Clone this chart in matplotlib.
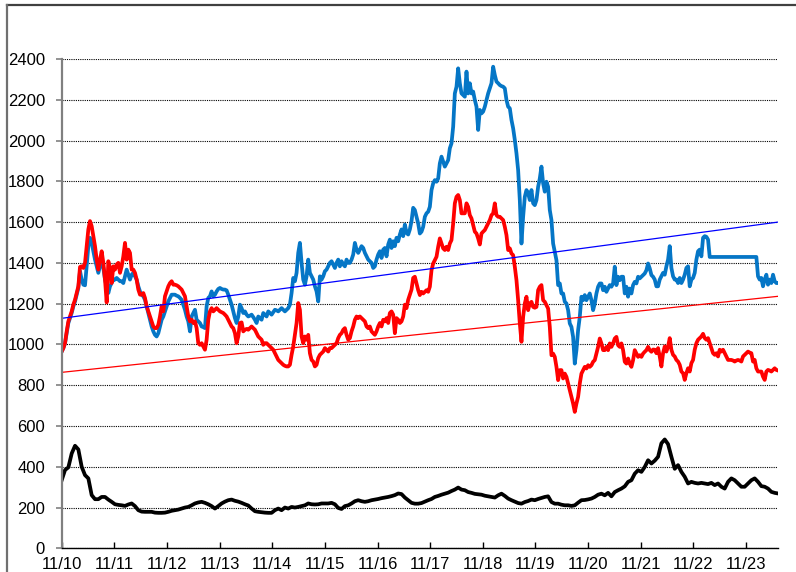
import numpy as np
import matplotlib
matplotlib.use('Agg')
import matplotlib.pyplot as plt
from matplotlib.lines import Line2D

plt.rcParams['font.family'] = ['Liberation Sans', 'DejaVu Sans']

##########################################
# data
##########################################
start = 2010 + 10 / 12          # 11/10
per_year_price = 31.6           # samples per year, blue / red
per_year_rate = 15.8            # samples per year, black

tick_labels = ['11/10', '11/11', '11/12', '11/13', '11/14', '11/15', '11/16',
               '11/17', '11/18', '11/19', '11/20', '11/21', '11/22', '11/23']

# trend line values at first / last date
trend_blue = [1128, 1600]
trend_red = [863, 1236]

blue = [
    965, 982, 1006, 1055, 1105, 1129, 1154, 1187, 1211, 1244,
    1277, 1359, 1318, 1293, 1290, 1383, 1482, 1523, 1498, 1457,
    1416, 1383, 1351, 1383, 1416, 1375, 1318, 1285, 1252, 1285,
    1301, 1318, 1318, 1326, 1318, 1310, 1310, 1301, 1334, 1367,
    1342, 1318, 1342, 1351, 1334, 1318, 1285, 1260, 1244, 1236,
    1219, 1187, 1154, 1121, 1088, 1064, 1047, 1039, 1055, 1088,
    1121, 1137, 1162, 1187, 1211, 1228, 1244, 1244,
    1244, 1239, 1236, 1228, 1219, 1195, 1170, 1137, 1113, 1064,
    1137, 1154, 1170, 1121, 1113, 1105, 1088, 1085, 1080, 1187,
    1228, 1236, 1260, 1236, 1244, 1260, 1272, 1277, 1272, 1269,
    1269, 1265, 1244, 1219, 1195, 1162, 1129, 1105, 1137, 1195,
    1178, 1154, 1162, 1146, 1137, 1141, 1146, 1134, 1121, 1105,
    1137, 1129, 1121, 1154, 1146, 1137, 1162, 1154, 1146, 1158,
    1170, 1167, 1162, 1170, 1178, 1170, 1162, 1170, 1178, 1195,
    1252, 1326,
    1310, 1351, 1449, 1498, 1400, 1318, 1293, 1334, 1416, 1351,
    1334, 1318, 1285, 1260, 1211, 1334, 1318, 1334, 1359, 1367,
    1383, 1400, 1408, 1392, 1375, 1400, 1416, 1383, 1408, 1392,
    1383, 1416, 1400, 1400, 1416, 1441, 1498, 1465, 1449, 1465,
    1482, 1473, 1449, 1432, 1416, 1408, 1400, 1375, 1383, 1416,
    1441, 1457, 1424, 1465, 1473, 1432, 1490, 1514, 1473, 1506,
    1482, 1523, 1506, 1539, 1564, 1531, 1588, 1547, 1539, 1564,
    1605, 1670,
    1659, 1626, 1593, 1544, 1553, 1577, 1626, 1643, 1651, 1675,
    1757, 1790, 1806, 1798, 1814, 1888, 1921, 1896, 1872, 1888,
    1904, 1962, 1986, 2068, 2231, 2264, 2354, 2281, 2231, 2223,
    2215, 2338, 2231, 2281, 2231, 2240, 2199, 2166, 2052, 2150,
    2133, 2142, 2166, 2199, 2231, 2256, 2281, 2362, 2321, 2289,
    2281, 2272, 2267, 2264, 2256, 2199, 2166, 2158, 2101, 2060,
    2003, 1937, 1855, 1708, 1495, 1626, 1724, 1757, 1741, 1708,
    1757, 1692,
    1683, 1708, 1773, 1814, 1872, 1790, 1749, 1798, 1773, 1659,
    1610, 1495, 1454, 1413, 1291, 1299, 1250, 1250, 1209, 1201,
    1168, 1103, 1086, 1037, 906, 972, 1070, 1135, 1234, 1217,
    1242, 1217, 1234, 1250, 1217, 1168, 1201, 1250, 1283, 1299,
    1299, 1266, 1283, 1258, 1274, 1291, 1283, 1299, 1381, 1291,
    1332, 1315, 1332, 1332, 1250, 1283, 1234, 1274, 1250, 1291,
    1307, 1299, 1332, 1324, 1332, 1340, 1348, 1364, 1397, 1373,
    1340, 1332,
    1318, 1285, 1285, 1318, 1334, 1351, 1342, 1383, 1416, 1482,
    1375, 1334, 1318, 1318, 1301, 1326, 1301, 1318, 1342, 1375,
    1383, 1285, 1318, 1326, 1351, 1416, 1457, 1465, 1432, 1523,
    1531, 1528, 1514, 1429, 1429, 1429, 1429, 1429, 1429, 1429,
    1429, 1429, 1429, 1429, 1429, 1429, 1429, 1429, 1429, 1429,
    1429, 1429, 1429, 1429, 1429, 1429, 1429, 1429, 1429, 1429,
    1429, 1429, 1334, 1318, 1326, 1285, 1318, 1342, 1293, 1318,
    1301, 1342, 1310, 1301, 1301,
]

red = [
    965, 982, 1006, 1064, 1113, 1137, 1162, 1195, 1219, 1252,
    1285, 1380, 1383, 1375, 1400, 1482, 1564, 1605, 1580, 1531,
    1482, 1416, 1367, 1416, 1457, 1400, 1318, 1206, 1408, 1375,
    1301, 1383, 1367, 1392, 1400, 1351, 1383, 1432, 1498, 1416,
    1465, 1449, 1367, 1367, 1351, 1318, 1269, 1244, 1244, 1252,
    1228, 1187, 1162, 1137, 1113, 1088, 1080, 1080, 1096, 1137,
    1187, 1162, 1236, 1260, 1285, 1301, 1310, 1293,
    1293, 1290, 1285, 1277, 1269, 1252, 1236, 1187, 1137, 1113,
    1121, 1105, 1113, 1080, 1006, 998, 1006, 990, 974, 1023,
    1121, 1162, 1178, 1162, 1170, 1178, 1170, 1162, 1158, 1154,
    1146, 1137, 1121, 1105, 1088, 1080, 1055, 1006, 1039, 1105,
    1108, 1064, 1072, 1076, 1072, 1080, 1088, 1080, 1072, 1055,
    1039, 1031, 1023, 998, 1006, 1006, 998, 990, 982, 974,
    957, 941, 924, 916, 908, 900, 895, 892, 892, 900,
    949, 990,
    1047, 1105, 1203, 1170, 1039, 1006, 1039, 1023, 1047, 957,
    924, 916, 892, 900, 933, 949, 957, 965, 982, 974,
    965, 982, 982, 990, 998, 1006, 1031, 1047, 1055, 1072,
    1080, 1047, 1023, 1031, 1064, 1088, 1121, 1137, 1129, 1137,
    1129, 1121, 1113, 1088, 1080, 1088, 1064, 1055, 1047, 1064,
    1088, 1105, 1088, 1121, 1113, 1129, 1105, 1154, 1162, 1146,
    1055, 1129, 1121, 1105, 1113, 1137, 1195, 1178, 1219, 1244,
    1269, 1326,
    1332, 1299, 1266, 1242, 1258, 1250, 1258, 1266, 1258, 1283,
    1364, 1397, 1414, 1430, 1479, 1520, 1495, 1471, 1463, 1479,
    1463, 1495, 1512, 1593, 1692, 1724, 1733, 1708, 1643, 1643,
    1643, 1692, 1675, 1634, 1618, 1585, 1553, 1544, 1520, 1490,
    1544, 1553, 1561, 1577, 1593, 1610, 1634, 1643, 1692, 1634,
    1626, 1626, 1618, 1610, 1577, 1536, 1463, 1471, 1446, 1438,
    1381, 1315, 1217, 1103, 1013, 1135, 1201, 1234, 1168, 1201,
    1209, 1184,
    1180, 1184, 1266, 1283, 1291, 1217, 1209, 1193, 1176, 1086,
    947, 955, 939, 890, 825, 874, 874, 833, 857, 841,
    808, 775, 743, 710, 669, 710, 743, 808, 857, 874,
    890, 882, 898, 890, 898, 915, 923, 955, 988, 1029,
    1005, 972, 972, 988, 972, 1005, 988, 1005, 1029, 1037,
    996, 988, 1005, 972, 915, 906, 931, 906, 890, 923,
    972, 955, 939, 947, 939, 955, 964, 972, 988, 972,
    964, 975,
    974, 957, 982, 941, 892, 957, 990, 965, 990, 1031,
    974, 949, 941, 924, 916, 900, 867, 859, 826, 859,
    883, 867, 908, 924, 974, 1006, 1023, 1031, 1039, 1052,
    1031, 1023, 1031, 1006, 982, 957, 949, 957, 941, 974,
    965, 974, 957, 941, 924, 924, 924, 921, 916, 921,
    924, 921, 916, 941, 949, 957, 965, 960, 957, 916,
    924, 883, 867, 867, 867, 842, 826, 867, 875, 872,
    867, 875, 883, 875, 872,
]

black = [
    334, 384, 397, 465, 503, 485, 400, 359, 343, 261,
    241, 241, 252, 252, 239, 228, 216, 213, 211, 208,
    215, 220, 207, 187, 180, 179, 179, 179, 175, 174,
    174, 175, 179, 184,
    187, 190, 195, 200, 203, 211, 220, 225, 228, 223,
    216, 207, 195, 207, 220, 229, 236, 239, 233, 229,
    223, 216, 210, 195, 182, 179, 177, 175, 174, 174,
    187, 195, 187, 200, 195, 203,
    200, 203, 207, 211, 220, 216, 215, 216, 220, 220,
    220, 223, 216, 198, 193, 207, 211, 220, 231, 236,
    231, 228, 231, 236, 239, 242, 246, 249, 252, 256,
    261, 269, 266, 249, 236, 223,
    219, 219, 222, 229, 236, 242, 252, 257, 263, 268,
    273, 281, 288, 298, 288, 285, 276, 272, 267, 265,
    263, 258, 255, 252, 249, 260, 268, 257, 244, 236,
    229, 222, 219, 227, 232, 239,
    236, 242, 247, 252, 255, 227, 219, 219, 214, 211,
    211, 208, 211, 224, 236, 237, 240, 244, 252, 263,
    268, 260, 272, 255, 276, 285, 293, 304, 326, 334,
    366, 383, 375, 399, 432, 416,
    430, 449, 515, 534, 511, 449, 390, 408, 375, 351,
    318, 326, 321, 318, 321, 318, 315, 321, 310, 318,
    302, 293, 326, 343, 334, 318, 302, 302, 318, 334,
    343, 326, 305, 302, 293, 277, 272, 269,
]

t_price = start + np.arange(len(blue)) / per_year_price
t_rate = start + np.arange(len(black)) / per_year_rate
tick_pos = start + np.arange(len(tick_labels))

##########################################
# plot
##########################################
fig = plt.figure(figsize=(7.96, 5.72), dpi=100)
ax = fig.add_axes([0.0775, 0.0414, 0.8999, 0.8555])

ax.plot(t_price, blue, color='#0576C6', lw=2.7, solid_joinstyle='round')
ax.plot(t_price, red, color='#FF0000', lw=2.7, solid_joinstyle='round')
ax.plot(t_rate, black, color='black', lw=2.7, solid_joinstyle='round')

# trend lines
ends = [t_price[0], t_price[-1]]
ax.plot(ends, trend_blue, color='#0000FF', lw=0.9)
ax.plot(ends, trend_red, color='#FF0000', lw=0.9)

ax.set_xlim(start, t_price[-1])
ax.set_ylim(0, 2400)
ax.set_yticks(range(0, 2401, 200))
ax.set_xticks(tick_pos)
ax.set_xticklabels(tick_labels)
ax.yaxis.grid(True, color='black', linestyle=(0, (1, 1)), lw=0.8)

ax.tick_params(axis='y', direction='out', length=4, width=1.2, color='#808080',
               labelsize=12, pad=8)
ax.tick_params(axis='x', direction='in', length=4, width=1, labelsize=12, pad=6)
for s in ('top', 'right'):
    ax.spines[s].set_visible(False)
ax.spines['left'].set_color('#808080')
ax.spines['left'].set_linewidth(1.6)
ax.spines['bottom'].set_linewidth(1.0)

# outer chart border (top and left edges visible in the crop)
fig.add_artist(Line2D([0.0088, 1], [0.9913, 0.9913], color='#404040', lw=1.6))
fig.add_artist(Line2D([0.0088, 0.0088], [0, 0.9913], color='#707070', lw=1.6))

fig.savefig('out.png', dpi=100)
